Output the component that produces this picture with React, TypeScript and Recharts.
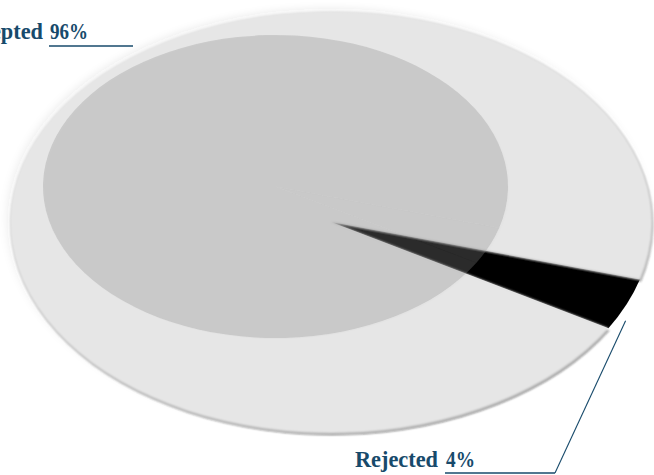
import React from 'react';
import { PieChart, Pie, Cell } from 'recharts';

// Share of applications by outcome
const categories = ['Rejected', 'Accepted'];
const shares = [4, 96];
const valueLabels = ['4%', '96%'];

const data = categories.map((name, i) => ({ name, value: shares[i], valueLabel: valueLabels[i] }));

const WIDTH = 654;
const HEIGHT = 475;

// Outer disc (drawn as a circle, flattened into an ellipse)
const OUTER = { cx: 331, cy: 222, r: 321, squash: 211 / 321 };
// Inner shading disc
const INNER = { cx: 275.5, cy: 186.5, r: 232.5, squash: 151.5 / 232.5 };

// Rejected wedge starts at this angle and the pie runs counter-clockwise
const START_ANGLE = -30.2;

const INK = '#174a6b';
const FONT = '"Liberation Serif", "Times New Roman", serif';
const FONT_SIZE = 24;

type LabelBox = {
  nameEnd: number;
  nameW: number;
  valueX: number;
  valueW: number;
  baseline: number;
  ruleY: number;
  ruleEnd: number;
};
const LABEL_BOX: Record<string, LabelBox> = {
  Accepted: { nameEnd: 43, nameW: 88, valueX: 50, valueW: 38, baseline: 39, ruleY: 46, ruleEnd: 133 },
  Rejected: { nameEnd: 438, nameW: 83, valueX: 446, valueW: 29, baseline: 467, ruleY: 473, ruleEnd: 555 },
};

const RAD = Math.PI / 180;

const renderLabel = (props: any) => {
  const { cx, cy, outerRadius, midAngle, name, payload } = props;
  const box = LABEL_BOX[name];
  if (!box) return null;
  let leader: React.ReactNode = null;
  if (name === 'Rejected') {
    // leader runs from just outside the wedge rim down to the rule
    const a = (midAngle - 4) * RAD;
    const ax = cx + outerRadius * 1.03 * Math.cos(a);
    const ay = cy - outerRadius * OUTER.squash * 1.03 * Math.sin(a);
    leader = <line x1={box.ruleEnd} y1={box.ruleY} x2={ax} y2={ay} stroke={INK} strokeWidth={1.1} />;
  }
  return (
    <g key={`lbl-${name}`}>
      <text
        x={box.nameEnd - box.nameW}
        y={box.baseline}
        textAnchor="start"
        fill={INK}
        fontFamily={FONT}
        fontWeight={700}
        fontSize={FONT_SIZE}
        textLength={box.nameW}
        lengthAdjust="spacingAndGlyphs"
      >
        {name}
      </text>
      <text
        x={box.valueX}
        y={box.baseline}
        textAnchor="start"
        fill={INK}
        fontFamily={FONT}
        fontWeight={700}
        fontSize={FONT_SIZE}
        textLength={box.valueW}
        lengthAdjust="spacingAndGlyphs"
      >
        {payload.valueLabel}
      </text>
      <line x1={box.valueX - 1} y1={box.ruleY} x2={box.ruleEnd} y2={box.ruleY} stroke={INK} strokeWidth={1.5} />
      {leader}
    </g>
  );
};

const css = `
.pie-outer path.recharts-sector {
  transform-box: view-box;
  transform-origin: ${OUTER.cx}px ${OUTER.cy}px;
  transform: scaleY(${OUTER.squash});
}
.pie-outer path.disc-body { filter: url(#discShadow); }
.pie-inner path.recharts-sector {
  transform-box: view-box;
  transform-origin: ${INNER.cx}px ${INNER.cy}px;
  transform: scaleY(${INNER.squash});
  filter: url(#innerRim);
}
`;

export default function App() {
  return (
    <div style={{ position: 'absolute', left: 0, top: 0, width: WIDTH, height: HEIGHT, background: '#fff' }}>
      <style>{css}</style>
      <svg width={0} height={0} style={{ position: 'absolute' }}>
        <defs>
          <filter id="discShadow" x="-6%" y="-8%" width="112%" height="118%">
            <feGaussianBlur in="SourceAlpha" stdDeviation="1 1.6" result="b" />
            <feOffset in="b" dx="1" dy="3" result="o" />
            <feFlood floodColor="#000" floodOpacity="0.6" />
            <feComposite in2="o" operator="in" result="s" />
            <feGaussianBlur in="SourceAlpha" stdDeviation="4 6" result="h0" />
            <feOffset in="h0" dx="-3" dy="-5" result="h1" />
            <feFlood floodColor="#000" floodOpacity="0.07" />
            <feComposite in2="h1" operator="in" result="h" />
            <feGaussianBlur in="SourceGraphic" stdDeviation="1.2 1.8" result="soft" />
            <feMerge>
              <feMergeNode in="h" />
              <feMergeNode in="s" />
              <feMergeNode in="soft" />
            </feMerge>
          </filter>
          <filter id="innerRim" x="-5%" y="-5%" width="110%" height="115%">
            <feGaussianBlur in="SourceAlpha" stdDeviation="0.8 1.2" result="b" />
            <feOffset in="b" dx="0.5" dy="2" result="o" />
            <feFlood floodColor="#000" floodOpacity="0.05" />
            <feComposite in2="o" operator="in" result="s" />
            <feMerge>
              <feMergeNode in="s" />
              <feMergeNode in="SourceGraphic" />
            </feMerge>
          </filter>
        </defs>
      </svg>
      <PieChart width={WIDTH} height={HEIGHT} margin={{ top: 0, right: 0, bottom: 0, left: 0 }}>
        <Pie
          className="pie-outer"
          data={data}
          dataKey="value"
          nameKey="name"
          cx={OUTER.cx}
          cy={OUTER.cy}
          outerRadius={OUTER.r}
          startAngle={START_ANGLE}
          endAngle={START_ANGLE + 360}
          stroke="none"
          label={renderLabel}
          labelLine={false}
          isAnimationActive={false}
        >
          {data.map((d) => (
            <Cell
              key={d.name}
              className={d.name === 'Accepted' ? 'disc-body' : 'disc-wedge'}
              fill={d.name === 'Accepted' ? '#e6e6e6' : '#000000'}
            />
          ))}
        </Pie>
        <Pie
          className="pie-inner"
          data={data}
          dataKey="value"
          nameKey="name"
          cx={INNER.cx}
          cy={INNER.cy}
          outerRadius={INNER.r}
          startAngle={START_ANGLE}
          endAngle={START_ANGLE + 360}
          stroke="none"
          isAnimationActive={false}
        >
          {data.map((d) => (
            <Cell key={d.name} fill="#8c8c8c" fillOpacity={0.3} />
          ))}
        </Pie>
      </PieChart>
    </div>
  );
}
